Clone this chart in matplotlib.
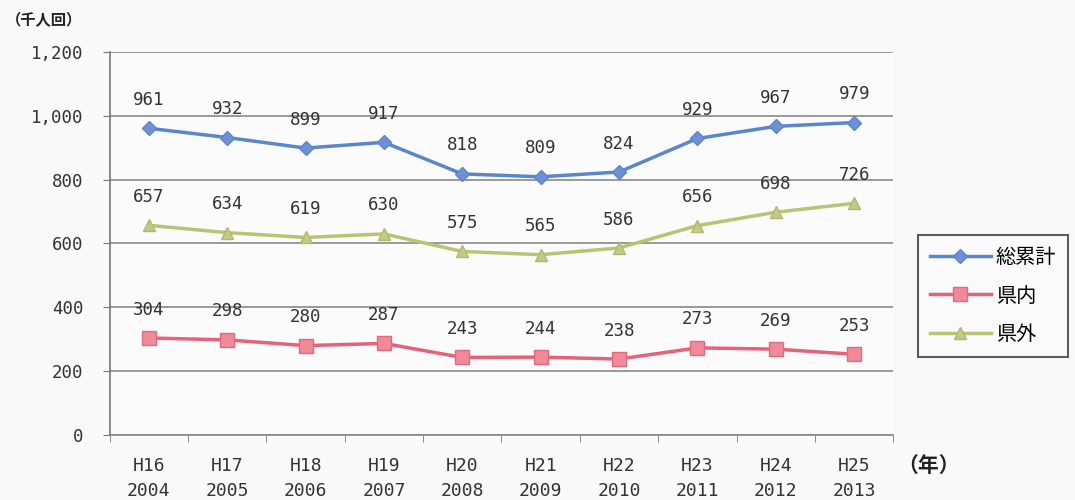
import matplotlib
matplotlib.use("Agg")
import matplotlib.pyplot as plt
from matplotlib.ticker import FuncFormatter, MultipleLocator

plt.rcParams['font.family'] = ['Noto Sans CJK JP', 'DejaVu Sans']

categories = ["H16\n2004", "H17\n2005", "H18\n2006", "H19\n2007", "H20\n2008",
              "H21\n2009", "H22\n2010", "H23\n2011", "H24\n2012", "H25\n2013"]
total = [961, 932, 899, 917, 818, 809, 824, 929, 967, 979]
inside = [304, 298, 280, 287, 243, 244, 238, 273, 269, 253]
outside = [657, 634, 619, 630, 575, 565, 586, 656, 698, 726]
series_names = ["総累計", "県内", "県外"]

fig = plt.figure(figsize=(10.75, 5), dpi=100, facecolor="#f9f9f9")
ax = fig.add_axes([0.102, 0.13, 0.729, 0.766])
ax.set_facecolor("#fbfbfb")

x = list(range(len(categories)))
l1, = ax.plot(x, total, color="#5a86cc", lw=2.5, marker="D", ms=7,
              mfc="#6f8fd8", mec="#5a86cc", label=series_names[0], zorder=3)
l2, = ax.plot(x, inside, color="#e8607a", lw=2.5, marker="s", ms=10,
              mfc="#f08a98", mec="#e06a80", label=series_names[1], zorder=3)
l3, = ax.plot(x, outside, color="#b9c472", lw=2.5, marker="^", ms=9,
              mfc="#c2c98a", mec="#b0ba6a", label=series_names[2], zorder=3)

for vals in (total, inside, outside):
    for xi, v in zip(x, vals):
        ax.annotate(str(v), (xi, v), xytext=(0, 14), textcoords="offset points",
                    ha="center", va="bottom", fontsize=12.5, color="#333333",
                    family="DejaVu Sans Mono")

ax.set_xlim(-0.5, len(categories) - 0.5)
ax.set_ylim(0, 1200)
ax.yaxis.set_major_locator(MultipleLocator(200))
ax.yaxis.set_major_formatter(FuncFormatter(lambda v, p: f"{int(v):,}"))
ax.grid(axis="y", color="#888888", lw=1.2)
ax.set_axisbelow(True)

ax.set_xticks(x)
ax.set_xticklabels(categories, fontsize=13, color="#333333",
                   family="DejaVu Sans Mono", linespacing=1.45)
ax.set_xticks([i - 0.5 for i in range(len(categories) + 1)], minor=True)
ax.tick_params(axis="x", which="major", length=0, pad=16)
ax.tick_params(axis="x", which="minor", length=5, color="#777777")
ax.tick_params(axis="y", length=5, color="#777777", labelsize=12.5,
               labelcolor="#333333", pad=14)
for lab in ax.get_yticklabels():
    lab.set_family("DejaVu Sans Mono")

for s in ("top", "right"):
    ax.spines[s].set_visible(False)
ax.spines["left"].set_color("#777777")
ax.spines["left"].set_linewidth(1.2)
ax.spines["bottom"].set_color("#888888")
ax.spines["bottom"].set_linewidth(1.2)

fig.text(0.005, 0.96, "（千人回）", fontsize=11, fontweight="bold",
         color="#222222", ha="left", va="center")
fig.text(0.835, 0.07, "（年）", fontsize=15, fontweight="bold",
         color="#222222", ha="left", va="center")

leg = fig.legend(handles=[l1, l2, l3], loc="center left",
                 bbox_to_anchor=(0.854, 0.408), fontsize=14.5, frameon=True,
                 fancybox=False, edgecolor="#333333", handlelength=3.0,
                 labelspacing=0.85, borderpad=0.6, handletextpad=0.25,
                 borderaxespad=0)
leg.get_frame().set_linewidth(1.5)
leg.get_frame().set_facecolor("#fbfbfb")

fig.savefig("out.png", dpi=100, facecolor=fig.get_facecolor())
